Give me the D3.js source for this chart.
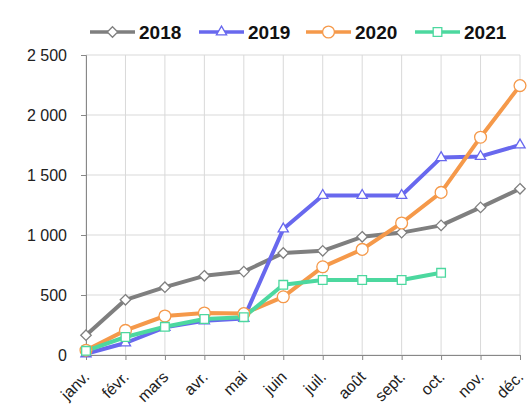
<!DOCTYPE html>
<html>
<head>
<meta charset="utf-8">
<script src="https://cdn.jsdelivr.net/npm/d3@7"></script>
<style>
  body { margin: 0; background: #fff; }
  svg { font-family: "Liberation Sans", Arial, sans-serif; }
</style>
</head>
<body>
<div id="vis"></div>
<script>
const FRAME_WIDTH = 528;
const FRAME_HEIGHT = 412;
const MARGINS = {left: 86, right: 8, top: 55, bottom: 57};

// data
const months = ["janv.", "févr.", "mars", "avr.", "mai", "juin", "juil.", "août", "sept.", "oct.", "nov.", "déc."];
const y2018 = [165, 460, 565, 660, 695, 850, 868, 985, 1020, 1080, 1230, 1385];
const y2019 = [10, 100, 230, 285, 305, 1050, 1330, 1330, 1330, 1645, 1655, 1750];
const y2020 = [40, 205, 325, 350, 345, 485, 735, 880, 1100, 1355, 1815, 2245];
const y2021 = [35, 150, 235, 300, 315, 585, 625, 625, 625, 685];
const yTicks = [0, 500, 1000, 1500, 2000, 2500];

const series = [
  {name: "2018", values: y2018, color: "#7f7f7f", shape: d3.symbolDiamond2, size: 70},
  {name: "2019", values: y2019, color: "#6868ee", shape: d3.symbolTriangle2, size: 75},
  {name: "2020", values: y2020, color: "#f5994a", shape: d3.symbolCircle, size: 110},
  {name: "2021", values: y2021, color: "#4cd89f", shape: d3.symbolSquare2, size: 95}
];

const VIS_WIDTH = FRAME_WIDTH - MARGINS.left - MARGINS.right;
const VIS_HEIGHT = FRAME_HEIGHT - MARGINS.top - MARGINS.bottom;

const svg = d3.select("#vis")
  .append("svg")
    .attr("width", FRAME_WIDTH)
    .attr("height", FRAME_HEIGHT);

const X_SCALE = d3.scalePoint()
  .domain(months)
  .range([0, VIS_WIDTH]);

const Y_SCALE = d3.scaleLinear()
  .domain([0, 2500])
  .range([VIS_HEIGHT, 0]);

const fmt = d => d3.format(",")(d).replace(/,/g, "\u00a0");

const g = svg.append("g")
  .attr("transform", "translate(" + MARGINS.left + "," + MARGINS.top + ")");

// grid
g.append("g")
  .selectAll("line")
  .data(yTicks)
  .enter()
  .append("line")
    .attr("x1", 0).attr("x2", VIS_WIDTH)
    .attr("y1", d => Y_SCALE(d)).attr("y2", d => Y_SCALE(d))
    .attr("stroke", "#d9d9d9");

g.append("g")
  .selectAll("line")
  .data(months)
  .enter()
  .append("line")
    .attr("x1", d => X_SCALE(d)).attr("x2", d => X_SCALE(d))
    .attr("y1", 0).attr("y2", VIS_HEIGHT)
    .attr("stroke", "#d9d9d9");

// axes
const yAxis = g.append("g")
  .call(d3.axisLeft(Y_SCALE).tickValues(yTicks).tickFormat(fmt).tickSize(5).tickPadding(14));
yAxis.select(".domain").attr("stroke", "#888");
yAxis.selectAll(".tick line").attr("stroke", "#888");
yAxis.selectAll("text")
  .attr("font-size", "16px")
  .attr("fill", "#222")
  .attr("font-family", "Liberation Sans, Arial, sans-serif");

const xAxis = g.append("g")
  .attr("transform", "translate(0," + VIS_HEIGHT + ")")
  .call(d3.axisBottom(X_SCALE).tickSize(5).tickSizeOuter(0));
xAxis.select(".domain").attr("stroke", "#888");
xAxis.selectAll(".tick line").attr("stroke", "#888");
xAxis.selectAll("text")
  .attr("font-size", "16px")
  .attr("fill", "#222")
  .attr("font-family", "Liberation Sans, Arial, sans-serif")
  .attr("text-anchor", "end")
  .attr("dy", "0.35em")
  .attr("transform", "translate(0,19) rotate(-45)")
  .attr("y", 0)
  .attr("x", 0);

// lines and markers
const line = d3.line()
  .x((d, i) => X_SCALE(months[i]))
  .y(d => Y_SCALE(d));

series.forEach(s => {
  g.append("path")
    .datum(s.values)
    .attr("fill", "none")
    .attr("stroke", s.color)
    .attr("stroke-width", 4)
    .attr("stroke-linejoin", "round")
    .attr("d", line);
});

series.forEach(s => {
  g.selectAll(null)
    .data(s.values)
    .enter()
    .append("path")
      .attr("d", d3.symbol().type(s.shape).size(s.size))
      .attr("transform", (d, i) => "translate(" + X_SCALE(months[i]) + "," + Y_SCALE(d) + ")")
      .attr("fill", "#fff")
      .attr("stroke", s.color)
      .attr("stroke-width", 1.3);
});

// legend
const legendX = [90, 199, 306, 415];
const legend = svg.append("g").attr("transform", "translate(0,32)");
series.forEach((s, i) => {
  const lg = legend.append("g").attr("transform", "translate(" + legendX[i] + ",0)");
  lg.append("line")
    .attr("x1", 0).attr("x2", 45)
    .attr("stroke", s.color)
    .attr("stroke-width", 3.5);
  lg.append("path")
    .attr("d", d3.symbol().type(s.shape).size(s.size))
    .attr("transform", "translate(22.5,0)")
    .attr("fill", "#fff")
    .attr("stroke", s.color)
    .attr("stroke-width", 1.3);
  lg.append("text")
    .attr("x", 49)
    .attr("dy", "0.36em")
    .attr("font-size", "19px")
    .attr("font-weight", "bold")
    .attr("fill", "#111")
    .text(s.name);
});
</script>
</body>
</html>
